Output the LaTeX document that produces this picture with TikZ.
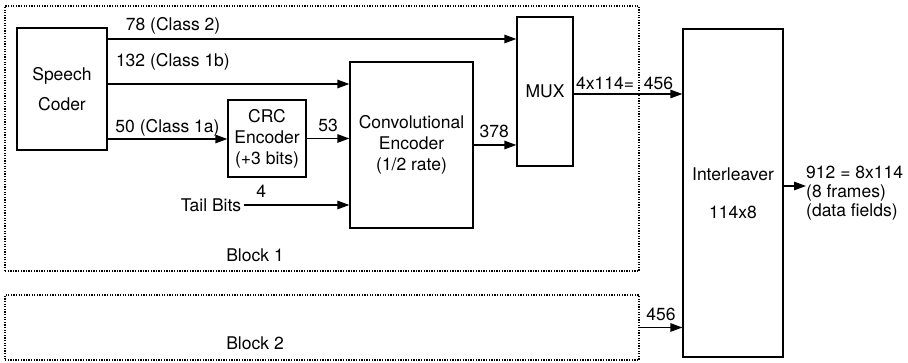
\documentclass[tikz,border=0pt]{standalone}
\usepackage{fontspec}
\setmainfont{TeX Gyre Heros}
\usetikzlibrary{arrows.meta,positioning}

\begin{document}
\begin{tikzpicture}[
    x=1pt, y=-1pt,
    font=\fontsize{17.5}{21}\selectfont,
    >={Triangle[length=12pt,width=8.5pt]},
    blk/.style={draw, line width=1.3pt, align=center, inner sep=0pt},
    group/.style={draw, line width=1.3pt, dash pattern=on 1.3pt off 1.3pt, inner sep=0pt},
    sig/.style={->, line width=1.3pt},
    lab/.style={inner sep=1pt}
  ]
    \useasboundingbox (0,0) rectangle (908,363);

    % the two blocks
    \node[group, minimum width=634pt, minimum height=265pt] (b1) at (322,138.5) {};
    \node[group, minimum width=634pt, minimum height=65pt] (b2) at (322,327.5) {};
    \node (b1lab) at (255,255) {Block 1};
    \node (b2lab) at (255,343) {Block 2};

    \node[blk, minimum width=90pt, minimum height=122pt] (coder) at (62,89) {Speech\\[9pt]Coder};
    \node[blk, minimum width=78pt, minimum height=77pt] (crc) at (267,138.5) {CRC\\Encoder\\(+3 bits)};
    \node[blk, minimum width=123pt, minimum height=166pt] (conv) at (411.5,145) {Convolutional\\Encoder\\(1/2 rate)};
    \node[blk, minimum width=56pt, minimum height=149pt] (mux) at (545,91.5) {MUX};
    \node[blk, minimum width=100pt, minimum height=328pt] (inter) at (733,193) {Interleaver\\[17pt]114x8};
    \node[inner sep=3pt] (tail) at (211,205) {Tail Bits};
    \node[align=left, inner sep=0pt, anchor=west] (res) at (806,193) {912 = 8x114\\[-2pt](8 frames)\\[-2pt](data fields)};

    \coordinate (o78) at ([yshift=50pt]coder.east);
    \coordinate (o132) at ([yshift=5pt]coder.east);
    \coordinate (o50) at ([yshift=-50pt]coder.east);
    \coordinate (iout) at ([yshift=7pt]inter.east);

    \draw[sig] (o78) -- node[lab, above=3pt, pos=0.16] {78 (Class 2)} (o78 -| mux.west);
    \draw[sig] (o132) -- node[lab, above=12pt, pos=0.27] {132 (Class 1b)} (o132 -| conv.west);
    \draw[sig] (o50) -- node[lab, above=1pt, pos=0.5] {50 (Class 1a)} (o50 -| crc.west);
    \draw[sig] (crc.east) -- node[lab, above=5pt] {53} (crc.east -| conv.west);
    \draw[sig] (tail.east) -- node[lab, above=6pt, pos=0.16] {4} (tail.east -| conv.west);
    \draw[sig] (conv.east) -- node[lab, above=6pt, pos=0.48] {378} (conv.east -| mux.west);
    \draw[sig] ([yshift=-2.5pt]mux.east) coordinate (mout) -- node[lab, above=3pt, pos=0.29] {4x114=}
      node[lab, above=3pt, pos=0.78] {456} (mout -| inter.west);
    \draw[sig] (b2.east) -- node[lab, above=5pt] {456} (b2.east -| inter.west);
    \draw[sig] (iout) -- (iout -| res.west);
\end{tikzpicture}
\end{document}
